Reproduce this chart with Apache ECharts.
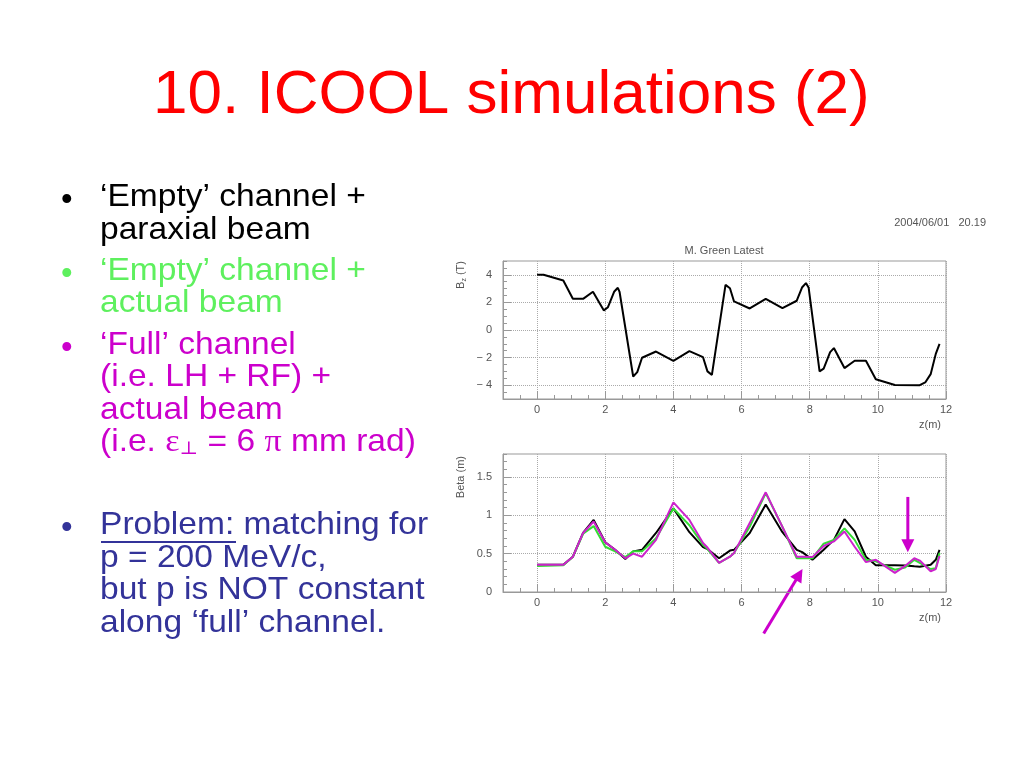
<!DOCTYPE html>
<html><head><meta charset="utf-8">
<script src="https://cdn.jsdelivr.net/npm/echarts@6.0.0/dist/echarts.min.js"></script>
<style>html,body{margin:0;padding:0;background:#fff}#c{width:1024px;height:768px}</style>
</head><body><div id="c"></div>
<script>
// ---- data ----
const zField = [0, 0.19, 0.77, 1.05, 1.35, 1.64, 1.96, 2.08, 2.26, 2.37, 2.42, 2.82, 2.94, 3.08, 3.49, 4.0, 4.47, 4.87, 5.0, 5.13, 5.53, 5.66, 5.78, 6.24, 6.71, 7.2, 7.62, 7.78, 7.89, 7.97, 8.29, 8.41, 8.6, 8.71, 9.02, 9.32, 9.65, 9.94, 10.5, 11.23, 11.39, 11.55, 11.7, 11.81];
const bz = [4.0, 4.0, 3.59, 2.26, 2.26, 2.77, 1.42, 1.65, 2.77, 3.06, 2.77, -3.37, -3.05, -2.01, -1.56, -2.23, -1.53, -1.97, -3.0, -3.25, 3.27, 3.03, 2.07, 1.56, 2.26, 1.58, 2.12, 3.1, 3.4, 3.06, -3.0, -2.8, -1.6, -1.31, -2.76, -2.23, -2.23, -3.57, -3.98, -4.0, -3.8, -3.2, -1.73, -1.0];

const zBeta = [0, 0.77, 1.05, 1.35, 1.66, 2.0, 2.29, 2.59, 2.82, 3.08, 3.49, 4.0, 4.47, 4.87, 5.0, 5.34, 5.66, 5.78, 6.24, 6.71, 7.2, 7.62, 7.78, 8.08, 8.41, 8.71, 9.02, 9.32, 9.65, 9.94, 10.5, 10.8, 11.07, 11.23, 11.55, 11.7, 11.81];
const betaParaxial = [0.355, 0.355, 0.46, 0.77, 0.94, 0.65, 0.55, 0.43, 0.53, 0.55, 0.77, 1.09, 0.78, 0.585, 0.56, 0.44, 0.54, 0.55, 0.77, 1.14, 0.78, 0.55, 0.52, 0.42, 0.55, 0.68, 0.95, 0.79, 0.46, 0.35, 0.35, 0.345, 0.335, 0.33, 0.355, 0.42, 0.55];
const betaEmpty = [0.34, 0.35, 0.46, 0.76, 0.86, 0.59, 0.53, 0.455, 0.53, 0.53, 0.70, 1.09, 0.87, 0.615, 0.56, 0.38, 0.46, 0.51, 0.85, 1.29, 0.85, 0.44, 0.44, 0.44, 0.63, 0.68, 0.83, 0.68, 0.42, 0.40, 0.29, 0.32, 0.42, 0.38, 0.30, 0.31, 0.51];
const betaFull = [0.355, 0.355, 0.46, 0.77, 0.92, 0.65, 0.55, 0.44, 0.50, 0.46, 0.68, 1.17, 0.94, 0.64, 0.58, 0.38, 0.46, 0.51, 0.90, 1.30, 0.85, 0.46, 0.46, 0.455, 0.60, 0.66, 0.79, 0.59, 0.39, 0.42, 0.25, 0.34, 0.44, 0.41, 0.27, 0.30, 0.47];

const zTicks = [0, 2, 4, 6, 8, 10, 12];
const bzTicks = [-4, -2, 0, 2, 4];
const betaTicks = [0, 0.5, 1, 1.5];

// arrow annotations in data coordinates of the beta plot: [tail, tip]
const arrowDown = [[10.88, 1.24], [10.88, 0.52]];
const arrowDiag = [[6.65, -0.54], [7.79, 0.30]];

// ---- styles ----
const LBL = {fontFamily: 'Liberation Sans', fontSize: 11, color: '#555'};
const AX = '#999';
function pairs(xs, ys) { return xs.map((x, i) => [x, ys[i]]); }
function fmt(v) { return String(+v.toFixed(2)).replace('-', '\u2212 '); }

function mainX(grid) {
  return {
    type: 'value', gridIndex: grid, position: 'bottom', min: -1, max: 12, interval: 1,
    axisLine: {show: true, onZero: false, lineStyle: {color: AX}},
    axisTick: {show: true, inside: true, length: 8, customValues: zTicks, lineStyle: {color: AX}},
    axisLabel: {show: true, customValues: zTicks, margin: 5, formatter: fmt, ...LBL},
    splitLine: {show: true, lineStyle: {type: 'dotted', color: '#aaa'}}
  };
}
function minorX(grid) {
  return {
    type: 'value', gridIndex: grid, position: 'bottom', min: -1, max: 12, interval: 0.5,
    axisLine: {show: false, onZero: false}, axisTick: {show: true, inside: true, length: 4, lineStyle: {color: AX}},
    axisLabel: {show: false}, splitLine: {show: false}
  };
}
function mainY(grid, min, max, ticks) {
  return {
    type: 'value', gridIndex: grid, position: 'left', min: min, max: max, interval: 0.5,
    axisLine: {show: true, onZero: false, lineStyle: {color: AX}},
    axisTick: {show: true, inside: true, length: 8, customValues: ticks, lineStyle: {color: AX}},
    axisLabel: {show: true, customValues: ticks, margin: 11, formatter: fmt, ...LBL},
    splitLine: {show: true, lineStyle: {type: 'dotted', color: '#aaa'}}
  };
}
function minorY(grid, min, max, step) {
  return {
    type: 'value', gridIndex: grid, position: 'left', min: min, max: max, interval: step,
    axisLine: {show: false, onZero: false}, axisTick: {show: true, inside: true, length: 4, lineStyle: {color: AX}},
    axisLabel: {show: false}, splitLine: {show: false}
  };
}

const chart = echarts.init(document.getElementById('c'), null, {renderer: 'canvas'});
chart.setOption({
  animation: false,
  backgroundColor: '#fff',
  grid: [
    {left: 503, top: 261, width: 443, height: 138, show: true, borderColor: AX, borderWidth: 1},
    {left: 503, top: 454, width: 443, height: 138, show: true, borderColor: AX, borderWidth: 1}
  ],
  xAxis: [mainX(0), minorX(0), mainX(1), minorX(1)],
  yAxis: [mainY(0, -5, 5, bzTicks), minorY(0, -5, 5, 0.5), mainY(1, 0, 1.8, betaTicks), minorY(1, 0, 1.8, 0.1)],
  series: [
    {type: 'line', xAxisIndex: 0, yAxisIndex: 0, data: pairs(zField, bz), showSymbol: false, lineStyle: {color: '#000', width: 2}},
    {type: 'line', xAxisIndex: 2, yAxisIndex: 2, data: pairs(zBeta, betaParaxial), showSymbol: false, lineStyle: {color: '#000', width: 2}},
    {type: 'line', xAxisIndex: 2, yAxisIndex: 2, data: pairs(zBeta, betaEmpty), showSymbol: false, lineStyle: {color: '#33dd33', width: 2}},
    {type: 'line', xAxisIndex: 2, yAxisIndex: 2, data: pairs(zBeta, betaFull), showSymbol: false, lineStyle: {color: '#cc22cc', width: 2}}
  ]
});

// ---- slide text and annotations ----
const BODY = 'Liberation Sans';
const FS = 30.5, SX = 1.1;
const BLACK = '#000', GREEN = '#5ef05e', MAG = '#cc00cc', NAVY = '#333399';
const g = [];
g.push({type: 'text', id: 'title', x: 153, y: 96, silent: true,
  style: {text: '10. ICOOL simulations (2)', fill: '#ff0000', fontFamily: BODY, fontSize: 62, align: 'left', verticalAlign: 'middle'}});
const lines = [
  ['\u2018Empty\u2019 channel +', 208.5, BLACK, true],
  ['paraxial beam', 241.5, BLACK],
  ['\u2018Empty\u2019 channel +', 282, GREEN, true],
  ['actual beam', 314.5, GREEN],
  ['\u2018Full\u2019 channel', 356, MAG, true],
  ['(i.e. LH + RF) +', 388.5, MAG],
  ['actual beam', 421, MAG],
  ['{t|(i.e. }{s|\u03b5}{sub|\u22a5}{t| = 6 }{s|\u03c0}{t| mm rad)}', 453.5, MAG],
  ['Problem:{t| matching for}', 536.7, NAVY, true],
  ['p = 200 MeV/c,', 569, NAVY],
  ['but p is NOT constant', 601.5, NAVY],
  ['along \u2018full\u2019 channel.', 634, NAVY]
];
lines.forEach((l, i) => {
  const base = l[1];
  if (l[3]) {
    g.push({type: 'text', id: 'b' + i, x: 61, y: base - 7.5, silent: true,
      style: {text: '\u2022', fill: l[2], fontFamily: BODY, fontSize: 33, align: 'left', verticalAlign: 'middle'}});
  }
  g.push({type: 'text', id: 'l' + i, x: 100, y: base - 10.9, scaleX: SX, silent: true,
    style: {text: l[0], fill: l[2], fontFamily: BODY, fontSize: FS, align: 'left', verticalAlign: 'middle',
      rich: {
        t: {fontFamily: BODY, fontSize: FS, fill: l[2], lineHeight: 31},
        s: {fontFamily: 'Liberation Serif', fontSize: 31, fill: l[2], lineHeight: 31},
        sub: {fontFamily: 'DejaVu Serif', fontSize: 18, fill: l[2], lineHeight: 31, verticalAlign: 'bottom', padding: [12, 0, 0, 0]}
      }}});
});
g.push({type: 'line', id: 'ul', silent: true, shape: {x1: 101, y1: 542, x2: 236, y2: 542}, style: {stroke: NAVY, lineWidth: 2}});

const SM = {fontFamily: 'Liberation Sans', fontSize: 11, fill: '#555'};
g.push({type: 'text', id: 'date', x: 986, y: 223, silent: true, style: Object.assign({text: '2004/06/01   20.19', align: 'right', verticalAlign: 'middle'}, SM)});
g.push({type: 'text', id: 'ptitle', x: 724, y: 251, silent: true, style: Object.assign({text: 'M. Green Latest', align: 'center', verticalAlign: 'middle'}, SM)});
g.push({type: 'text', id: 'zm1', x: 930, y: 425, silent: true, style: Object.assign({text: 'z(m)', align: 'center', verticalAlign: 'middle'}, SM)});
g.push({type: 'text', id: 'zm2', x: 930, y: 618, silent: true, style: Object.assign({text: 'z(m)', align: 'center', verticalAlign: 'middle'}, SM)});
g.push({type: 'text', id: 'ybz', x: 461, y: 261, rotation: Math.PI / 2, silent: true,
  style: Object.assign({text: '{m|B}{s|z}{m| (T)}', align: 'right', verticalAlign: 'middle',
    rich: {m: {fontFamily: 'Liberation Sans', fontSize: 11, fill: '#555', lineHeight: 13},
           s: {fontFamily: 'Liberation Sans', fontSize: 7, fill: '#555', lineHeight: 13, verticalAlign: 'bottom'}}}, SM)});
g.push({type: 'text', id: 'ybeta', x: 461, y: 456, rotation: Math.PI / 2, silent: true,
  style: Object.assign({text: 'Beta (m)', align: 'right', verticalAlign: 'middle'}, SM)});

function arrow(id, pts) {
  const a = chart.convertToPixel({xAxisIndex: 2, yAxisIndex: 2}, pts[0]);
  const b = chart.convertToPixel({xAxisIndex: 2, yAxisIndex: 2}, pts[1]);
  const dx = b[0] - a[0], dy = b[1] - a[1], len = Math.hypot(dx, dy);
  const ux = dx / len, uy = dy / len, nx = -uy, ny = ux;
  const L = 13, W = 13;
  const bx = b[0] - ux * L, by = b[1] - uy * L;
  g.push({type: 'line', id: id + 'l', silent: true, shape: {x1: a[0], y1: a[1], x2: bx + ux * 2, y2: by + uy * 2}, style: {stroke: MAG, lineWidth: 3}});
  g.push({type: 'polygon', id: id + 'h', silent: true, shape: {points: [[b[0], b[1]], [bx + nx * W / 2, by + ny * W / 2], [bx - nx * W / 2, by - ny * W / 2]]}, style: {fill: MAG}});
}
arrow('a1', arrowDown);
arrow('a2', arrowDiag);

chart.setOption({graphic: g});
</script>
</body></html>
